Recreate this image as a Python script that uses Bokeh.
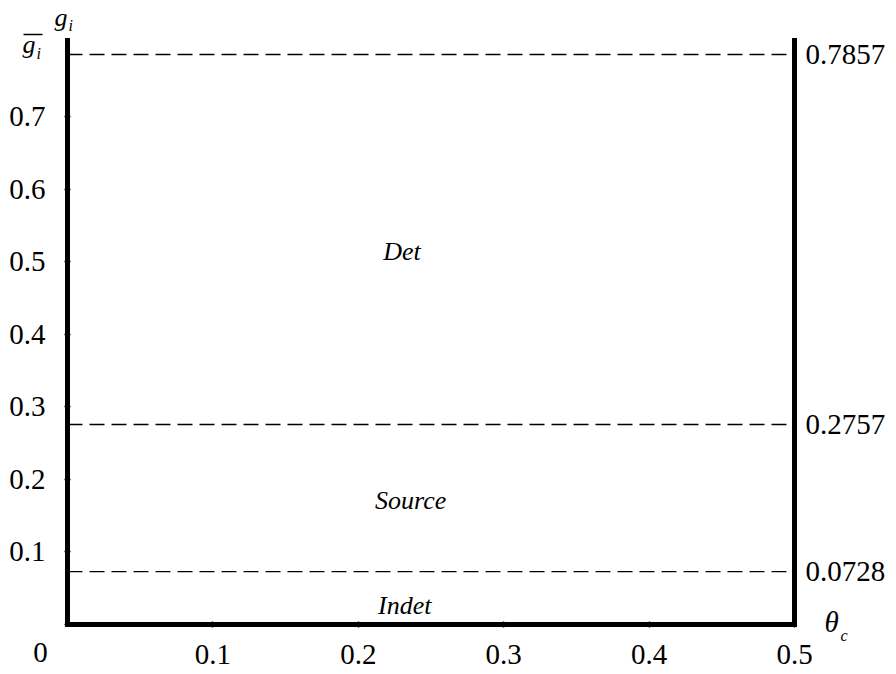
from bokeh.plotting import figure
from bokeh.models import Range1d, LinearAxis, FixedTicker, Label
from bokeh.embed import file_html
from bokeh.resources import INLINE

# ---- data ----
x_ticks = [0.1, 0.2, 0.3, 0.4, 0.5]
y_ticks = [0.0, 0.1, 0.2, 0.3, 0.4, 0.5, 0.6, 0.7]
thresholds = [0.0728, 0.2757, 0.7857]
threshold_labels = ["0.0728", "0.2757", "0.7857"]
regions = ["Indet", "Source", "Det"]
region_x = [0.232, 0.236, 0.230]
region_y = [0.026, 0.171, 0.514]
x_max = 0.5
y_max = 0.805

FONT = "Liberation Serif"

# ---- layout: pixel positions of the plotting box corners on the canvas ----
W, H = 896, 674
AX_L, AX_R, AX_T, AX_B = 67, 794, 40, 624
sx = (AX_R - AX_L) / x_max
sy = (AX_B - AX_T) / y_max
x_range = Range1d(-AX_L / sx, x_max + (W - AX_R) / sx)
y_range = Range1d(-(H - AX_B) / sy, y_max + AX_T / sy)

p = figure(width=W, height=H, x_range=x_range, y_range=y_range,
           output_backend="svg", toolbar_location=None,
           x_axis_location=None, y_axis_location=None,
           min_border_left=0, min_border_right=0, min_border_top=0, min_border_bottom=0)
p.grid.visible = False
p.outline_line_color = None
p.background_fill_color = "white"
p.border_fill_color = "white"


def style_axis(ax):
    ax.axis_line_width = 5
    ax.axis_line_color = "black"
    ax.axis_line_cap = "square"
    ax.major_tick_line_width = 1.5
    ax.major_tick_line_color = "black"
    ax.major_tick_in = 3
    ax.major_tick_out = 3
    ax.minor_tick_line_color = None
    ax.major_label_text_font = FONT
    ax.major_label_text_font_size = "29px"
    ax.major_label_text_color = "black"


bottom = LinearAxis(ticker=FixedTicker(ticks=x_ticks), fixed_location=0, bounds=(0, x_max))
style_axis(bottom)
bottom.major_label_standoff = 17
p.add_layout(bottom, "below")

left = LinearAxis(ticker=FixedTicker(ticks=y_ticks), fixed_location=0, bounds=(0, y_max))
style_axis(left)
left.major_label_standoff = 19
left.major_label_overrides = {0.0: ""}
p.add_layout(left, "left")

right = LinearAxis(ticker=FixedTicker(ticks=thresholds), fixed_location=x_max, bounds=(0, y_max))
style_axis(right)
right.major_tick_line_color = None
right.major_tick_out = 0
right.major_tick_in = 0
right.major_label_standoff = 11
right.major_label_overrides = {t: s for t, s in zip(thresholds, threshold_labels)}
p.add_layout(right, "right")

# dashed threshold lines
p.segment(x0=[0] * len(thresholds), x1=[x_max] * len(thresholds),
          y0=thresholds, y1=thresholds,
          line_color="black", line_width=1.3, line_dash="15 7")

for name, xx, yy in zip(regions, region_x, region_y):
    p.add_layout(Label(x=xx, y=yy, text=name, text_font=FONT, text_font_size="26px",
                       text_font_style="italic", text_align="center",
                       text_baseline="middle", text_color="black"))


def dx(px):
    return (px - AX_L) / sx


def dy(py):
    return (AX_B - py) / sy


def lab(px, py, text, size, italic=True, align="left"):
    # py is the desired glyph baseline in canvas pixels
    y_pix = py - 0.35 * size
    p.add_layout(Label(x=dx(px), y=dy(y_pix), text=text, text_font=FONT,
                       text_font_size=f"{size}px",
                       text_font_style="italic" if italic else "normal",
                       text_align=align, text_baseline="alphabetic",
                       text_color="black"))


# g_i (y-axis title)
lab(54, 26, "g", 26)
lab(68, 31, "i", 16)
# g-bar_i at the top threshold
p.segment(x0=[dx(23)], x1=[dx(42)], y0=[dy(34)], y1=[dy(34)], line_color="black", line_width=1.5)
lab(22, 53, "g", 26)
lab(36, 59, "i", 16)
# theta_c (x-axis title)
lab(824, 632, "\u03b8", 29)
lab(840, 641, "c", 16)
# origin
lab(40, 662, "0", 29, italic=False, align="center")

open("out.html", "w").write(file_html(p, INLINE))
